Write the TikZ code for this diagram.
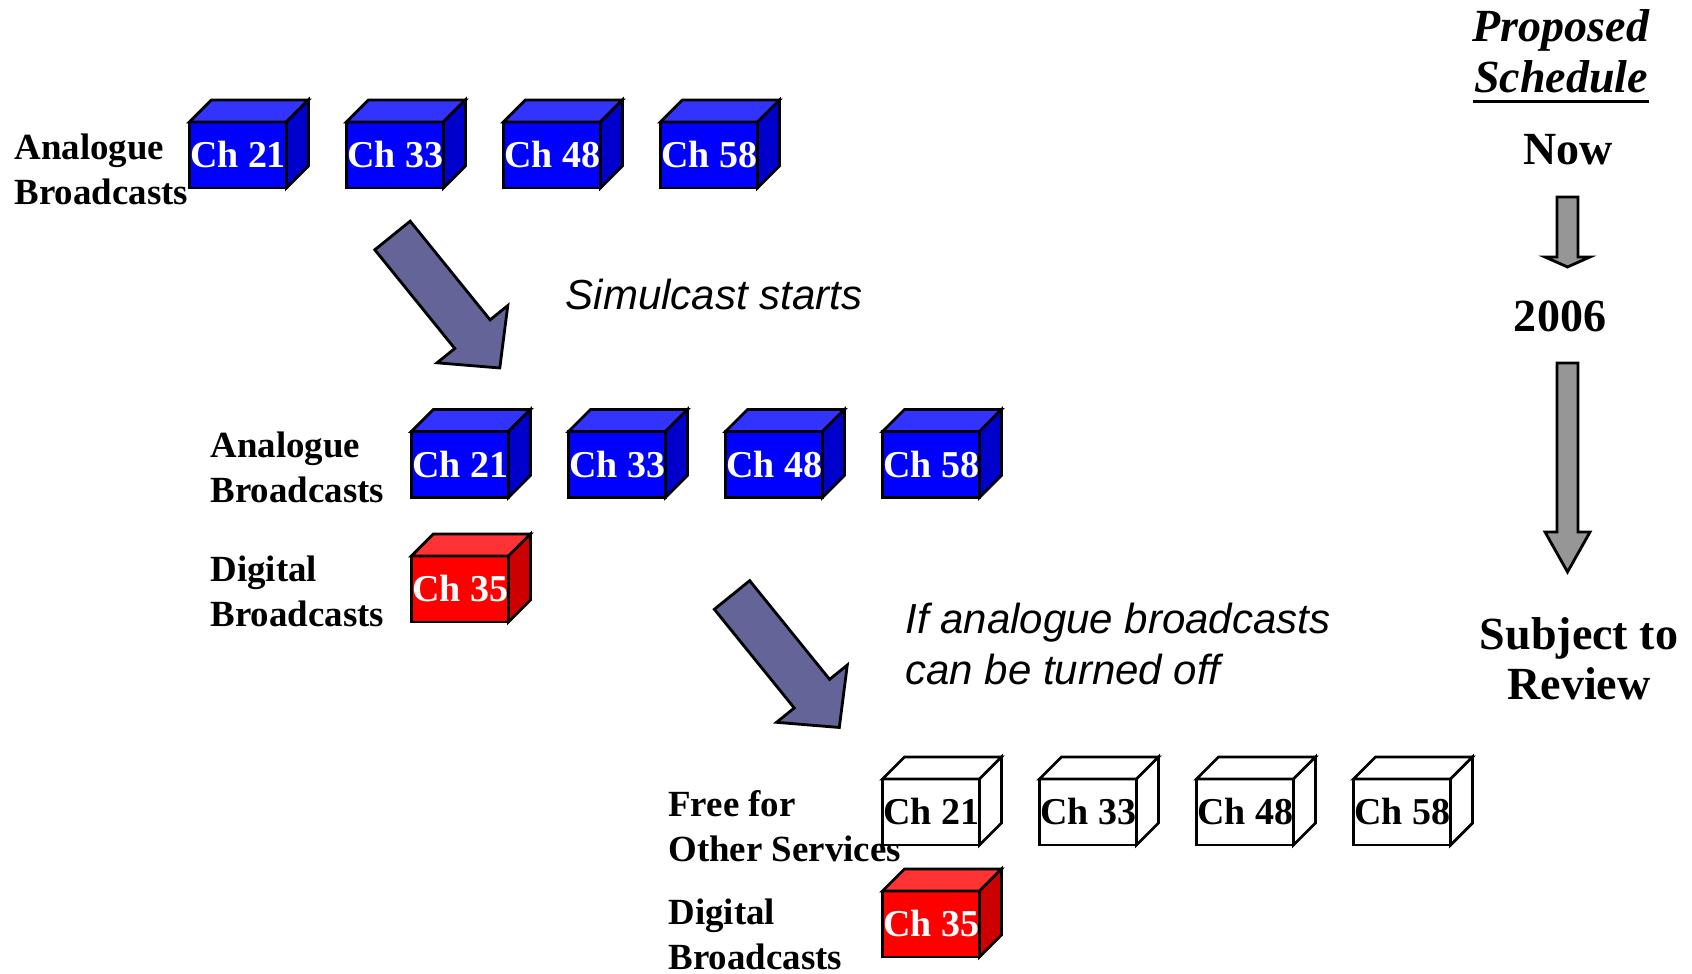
\documentclass[tikz,border=0pt]{standalone}
\usepackage{fontspec}
\setmainfont{Liberation Serif}
\setsansfont{Liberation Sans}
\usetikzlibrary{calc}

\definecolor{chfront}{RGB}{0,0,255}
\definecolor{chtop}{RGB}{51,51,255}
\definecolor{chside}{RGB}{0,0,204}
\definecolor{dfront}{RGB}{255,0,0}
\definecolor{dtop}{RGB}{255,51,51}
\definecolor{dside}{RGB}{204,0,0}
\definecolor{movefill}{RGB}{100,100,152}
\definecolor{timefill}{RGB}{150,150,150}

% top and side face of a channel block
\newcommand{\cubefaces}[3]{%
  \draw[fill=#2] (#1.north west) -- ++(0.22,0.22) -- ($(#1.north east)+(0.22,0.22)$) -- (#1.north east) -- cycle;
  \draw[fill=#3] (#1.north east) -- ++(0.22,0.22) -- ($(#1.south east)+(0.22,0.22)$) -- (#1.south east) -- cycle;
}

\begin{document}
\begin{tikzpicture}[line width=0.8pt,
    chbox/.style={draw, minimum width=0.97cm, minimum height=0.66cm, inner sep=0pt, outer sep=0pt,
        font=\fontsize{10.8}{12.8}\selectfont\bfseries},
    anacube/.style={chbox, fill=chfront, text=white},
    digcube/.style={chbox, fill=dfront, text=white},
    freecube/.style={chbox, fill=white, text=black},
    lbl/.style={anchor=west, inner sep=0pt, align=left, font=\fontsize{10.5}{12.8}\selectfont\bfseries},
    note/.style={inner sep=0pt, align=left, font=\fontsize{11.95}{14.4}\selectfont\sffamily\itshape},
    sched/.style={inner sep=0pt, align=center, font=\fontsize{13.1}{14.3}\selectfont\bfseries},
    bigarrow/.style={draw, fill=movefill},
    timearrow/.style={draw, fill=timefill}]

    \useasboundingbox (0,0) rectangle (16.92,9.74);

    % now
    \node[lbl] (lblA) at (0.13,8.045) {Analogue\\Broadcasts};
    \foreach \ch [count=\i from 0] in {21,33,48,58} {
        \node[anacube] (an\ch) at ({2.38+1.57*\i},8.19) {Ch \ch};
        \cubefaces{an\ch}{chtop}{chside}
    }

    \draw[bigarrow, shift={(3.925,7.385)}, rotate=-51] (0,0.2275) -- (1.27,0.2275) -- (1.27,0.455) -- (1.705,0)
        -- (1.27,-0.455) -- (1.27,-0.2275) -- (0,-0.2275) -- cycle;
    \node[note] (simtext) at (7.14,6.79) {Simulcast starts};

    % simulcast
    \node[lbl] (lblB) at (2.09,5.07) {Analogue\\Broadcasts};
    \node[lbl] (lblC) at (2.09,3.83) {Digital\\Broadcasts};
    \foreach \ch [count=\i from 0] in {21,33,48,58} {
        \node[anacube] (sim\ch) at ({4.60+1.57*\i},5.095) {Ch \ch};
        \cubefaces{sim\ch}{chtop}{chside}
    }
    \node[digcube] (simdig) at (4.60,3.85) {Ch 35};
    \cubefaces{simdig}{dtop}{dside}

    \draw[bigarrow, shift={(7.32,3.79)}, rotate=-51] (0,0.2275) -- (1.27,0.2275) -- (1.27,0.455) -- (1.705,0)
        -- (1.27,-0.455) -- (1.27,-0.2275) -- (0,-0.2275) -- cycle;
    \node[note, anchor=west] (offtext) at (9.04,3.30) {If analogue broadcasts\\can be turned off};

    % switch off
    \node[lbl] (lblD) at (6.67,1.475) {Free for\\Other Services};
    \node[lbl] (lblE) at (6.67,0.40) {Digital\\Broadcasts};
    \foreach \ch [count=\i from 0] in {21,33,48,58} {
        \node[freecube] (free\ch) at ({9.31+1.57*\i},1.62) {Ch \ch};
        \cubefaces{free\ch}{white}{white}
    }
    \node[digcube] (freedig) at (9.31,0.50) {Ch 35};
    \cubefaces{freedig}{dtop}{dside}

    % schedule
    \node[sched, font=\fontsize{13.1}{14.3}\selectfont\bfseries\itshape, anchor=base] (prop) at (15.61,9.32) {Proposed};
    \node[sched, font=\fontsize{13.1}{14.3}\selectfont\bfseries\itshape, anchor=base] (schd) at (15.61,8.81) {Schedule};
    \draw[line width=1pt] ($(schd.base west)+(0,-0.085)$) -- ($(schd.base east)+(0,-0.085)$);

    \node[sched] (now) at (15.68,8.24) {Now};
    \node[sched] (yr) at (15.60,6.58) {2006};
    \node[sched] (review) at (15.79,3.15) {Subject to\\Review};

    \draw[timearrow] (15.57,7.77) -- (15.57,7.17) -- (15.45,7.17) -- (15.675,7.07) -- (15.90,7.17)
        -- (15.78,7.17) -- (15.78,7.77) -- cycle;
    \draw[timearrow] (15.57,6.11) -- (15.57,4.42) -- (15.45,4.42) -- (15.675,4.02) -- (15.90,4.42)
        -- (15.78,4.42) -- (15.78,6.11) -- cycle;

\end{tikzpicture}
\end{document}
